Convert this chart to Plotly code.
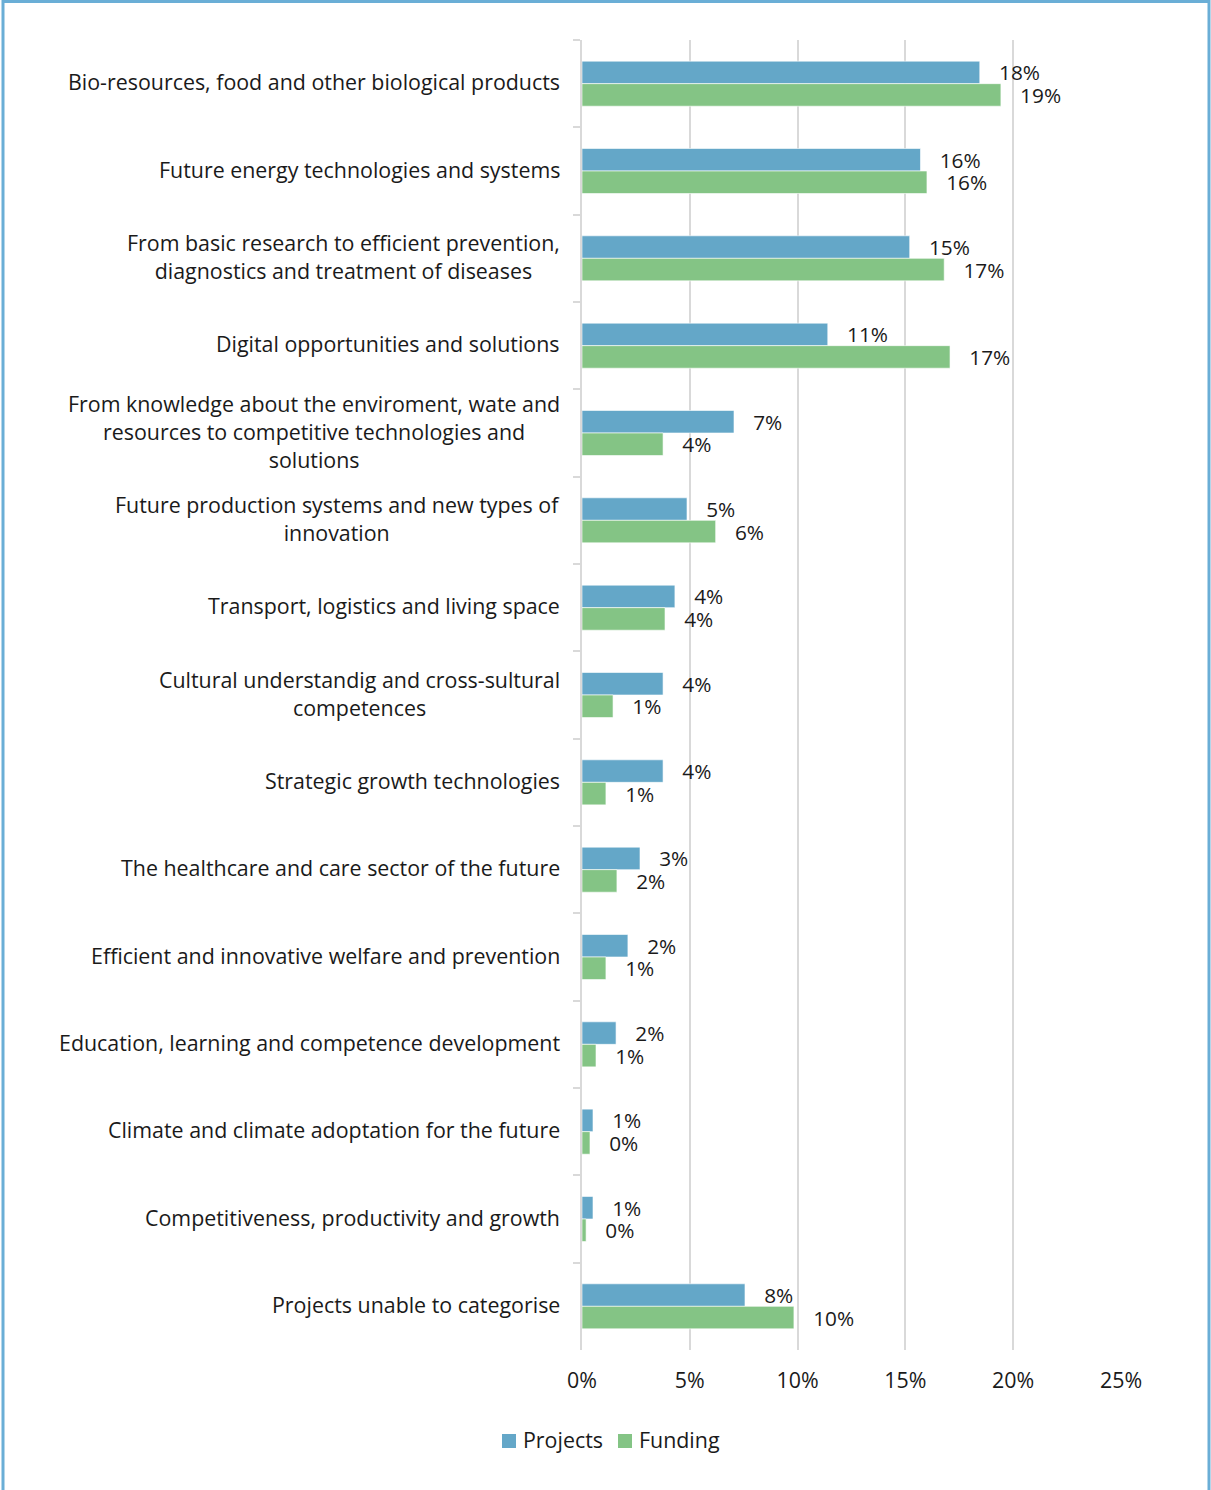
import plotly.graph_objects as go

CATEGORIAS = [
    "Bio-resources, food and other biological products",
    "Future energy technologies and systems",
    "From basic research to efficient prevention,<br>diagnostics and treatment of diseases",
    "Digital opportunities and solutions",
    "From knowledge about the enviroment, wate and<br>resources to competitive technologies and<br>solutions",
    "Future production systems and new types of<br>innovation",
    "Transport, logistics and living space",
    "Cultural understandig and cross-sultural<br>competences",
    "Strategic growth technologies",
    "The healthcare and care sector of the future",
    "Efficient and innovative welfare and prevention",
    "Education, learning and competence development",
    "Climate and climate adoptation for the future",
    "Competitiveness, productivity and growth",
    "Projects unable to categorise",
]

PROJETOS = [18.45, 15.7, 15.2, 11.4, 7.05, 4.87, 4.31, 3.76, 3.76, 2.69, 2.13, 1.58, 0.51, 0.51, 7.56]
FINANCIAMENTO = [19.43, 16.0, 16.8, 17.07, 3.76, 6.2, 3.85, 1.44, 1.11, 1.62, 1.11, 0.65, 0.37, 0.19, 9.83]

ROTULOS_PROJETOS = ["18%", "16%", "15%", "11%", "7%", "5%", "4%", "4%", "4%", "3%", "2%", "2%", "1%", "1%", "8%"]
ROTULOS_FINANCIAMENTO = ["19%", "16%", "17%", "17%", "4%", "6%", "4%", "1%", "1%", "2%", "1%", "1%", "0%", "0%", "10%"]

TICKS_X = [0, 5, 10, 15, 20, 25]

AZUL = "#64a7c8"
VERDE = "#84c485"
FONTE = "Open Sans"
TAM = 21.4
COR_TEXTO = "#1a1a1a"

SERIES = [
    ("Projects", PROJETOS, ROTULOS_PROJETOS, AZUL),
    ("Funding", FINANCIAMENTO, ROTULOS_FINANCIAMENTO, VERDE),
]

fig = go.Figure()
for nome, valores, rotulos, cor in SERIES:
    fig.add_trace(go.Bar(
        y=CATEGORIAS,
        x=valores,
        name=nome,
        orientation="h",
        marker=dict(color=cor, line=dict(color="rgba(255,255,255,0.6)", width=1)),
        text=rotulos,
        texttemplate="\u00a0\u00a0\u00a0%{text}",
        textposition="outside",
        constraintext="none",
        cliponaxis=False,
        textfont=dict(family=FONTE, size=TAM - 0.6, color=COR_TEXTO),
        showlegend=False,
    ))

# rotulos das categorias como anotacoes (centralizados em varias linhas)
for cat in CATEGORIAS:
    fig.add_annotation(
        x=0, xref="paper", y=cat, yref="y",
        text=cat, showarrow=False,
        xanchor="right", yanchor="middle", align="center", xshift=-20, yshift=2,
        font=dict(family=FONTE, size=TAM, color=COR_TEXTO),
    )

# legenda desenhada a mao (quadrado + texto), em coordenadas de papel
def px_x(p):
    return (p - 582) / 539


def px_y(p):
    return (1350 - p) / 1310


for (nome, _, _, cor), x_quad in zip(SERIES, [502, 618]):
    fig.add_shape(
        type="rect", xref="paper", yref="paper",
        x0=px_x(x_quad), x1=px_x(x_quad + 14), y0=px_y(1448), y1=px_y(1434),
        line=dict(width=0), fillcolor=cor,
    )
    fig.add_annotation(
        x=px_x(x_quad + 19), xref="paper", y=px_y(1439), yref="paper",
        text=nome, showarrow=False, xanchor="left", yanchor="middle",
        font=dict(family=FONTE, size=TAM, color=COR_TEXTO),
    )

# moldura azul em volta da figura
fig.add_shape(
    type="rect", xref="paper", yref="paper",
    x0=px_x(3), x1=px_x(1209), y0=px_y(1500), y1=px_y(1.5),
    line=dict(color="#6aaed6", width=3), fillcolor="rgba(0,0,0,0)", layer="below",
)

fig.update_layout(
    width=1211,
    height=1490,
    margin=dict(l=582, r=90, t=40, b=140),
    barmode="group",
    bargap=0.484,
    bargroupgap=0,
    plot_bgcolor="white",
    paper_bgcolor="white",
    font=dict(family=FONTE, size=TAM, color=COR_TEXTO),
    showlegend=False,
    xaxis=dict(
        range=[0, 25],
        tickvals=TICKS_X,
        ticktext=[f"{v}%" for v in TICKS_X],
        showgrid=True,
        gridcolor="#d9d9d9",
        gridwidth=2,
        zeroline=False,
        showline=False,
        ticks="",
        ticklabelstandoff=16,
        tickfont=dict(family=FONTE, size=TAM, color=COR_TEXTO),
    ),
    yaxis=dict(
        autorange="reversed",
        showticklabels=False,
        showline=True,
        linecolor="#d9d9d9",
        linewidth=2,
        ticks="outside",
        tickson="boundaries",
        ticklen=7,
        tickcolor="#d9d9d9",
        tickwidth=2,
        showgrid=False,
    ),
)

fig.write_html(
    "out.html",
    config={"displayModeBar": False},
    post_script="document.body.style.margin='0px';",
)
